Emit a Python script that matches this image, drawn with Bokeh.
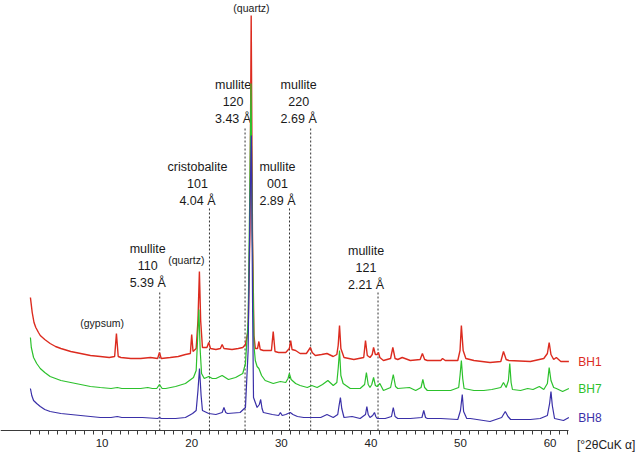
import math
from bokeh.plotting import figure
from bokeh.models import LinearAxis, FixedTicker, Range1d, ColumnDataSource
from bokeh.core.properties import value
from bokeh.embed import file_html
from bokeh.resources import INLINE

# ---------------- data ----------------
# intensity in arbitrary units (offset traces, as drawn)
bh1_x = [2.0, 2.2, 2.4, 2.6, 2.9, 3.1, 3.6, 4.2, 4.8, 5.4, 6.5, 7.6, 8.7, 9.8, 10.8, 11.4, 11.6, 11.8,
         12.1, 13.2, 14.3, 15.4, 16.2, 16.4, 16.6, 17.6, 18.5, 19.3, 19.85, 20.0, 20.15, 20.5, 20.7,
         20.86, 21.0, 21.2, 21.7, 21.9, 22.1, 22.7, 23.2, 23.4, 23.6, 24.5, 25.2, 25.7, 26.0, 26.3,
         26.5, 26.64, 26.78, 26.95, 27.1, 27.35, 27.5, 27.65, 28.0, 28.9, 29.1, 29.3, 29.7, 30.5,
         30.9, 31.05, 31.2, 31.6, 32.1, 32.8, 33.25, 33.45, 33.8, 34.5, 35.1, 35.8, 36.2, 36.35,
         36.5, 36.65, 37.0, 38.1, 39.2, 39.4, 39.6, 39.9, 40.15, 40.3, 40.5, 40.7, 40.85, 41.0, 41.4,
         42.2, 42.45, 42.7, 43.0, 43.5, 44.4, 45.5, 45.75, 46.0, 46.3, 47.0, 47.8, 48.0, 48.3, 49.7,
         49.95, 50.1, 50.3, 50.6, 51.5, 53.3, 54.5, 54.8, 55.1, 55.4, 57.8, 59.3, 59.7, 59.9, 60.1,
         60.4, 60.7, 61.2, 62.1]
bh1_y = [133, 118, 108, 103, 98, 95, 91, 87, 84, 82, 79, 77, 75, 74, 73, 74, 97, 74,
         73, 72, 72, 73, 72, 78, 72, 73, 74, 76, 77, 96, 79, 82, 110,
         159, 110, 83, 83, 88, 82, 81, 82, 86, 82, 81, 82, 83, 86, 100,
         200, 415, 200, 95, 82, 82, 89, 81, 80, 80, 99, 79, 78, 78,
         82, 90, 81, 80, 77, 77, 83, 78, 75, 76, 77, 74, 76, 85,
         105, 82, 73, 71, 73, 90, 75, 73, 76, 83, 76, 76, 78, 73, 70,
         72, 83, 72, 71, 73, 70, 71, 77, 71, 70, 70, 70, 72, 70, 70,
         80, 105, 80, 72, 70, 68, 69, 79, 71, 70, 69, 72, 77, 88, 76,
         71, 73, 69, 69]

bh7_x = [2.0, 2.1, 2.35, 2.7, 3.1, 3.6, 4.2, 4.8, 5.4, 6.5, 7.6, 8.7, 9.8, 11.0, 11.7, 12.2, 13.2,
         14.3, 15.1, 15.6, 16.1, 16.4, 16.7, 17.1, 18.2, 19.3, 20.2, 20.5, 20.65, 20.8, 20.95, 21.1,
         21.4, 21.9, 22.3, 22.7, 23.4, 24.1, 24.9, 25.7, 26.0, 26.3, 26.5, 26.62, 26.76, 26.95, 27.1,
         27.3, 27.5, 27.8, 28.2, 29.1, 29.9, 30.5, 30.75, 30.9, 31.1, 31.6, 32.1, 32.9, 33.4, 34.0,
         34.6, 35.2, 35.8, 36.2, 36.35, 36.5, 36.65, 36.9, 37.7, 38.8, 39.3, 39.5, 39.7, 39.9, 40.1,
         40.3, 40.5, 40.7, 41.0, 41.4, 42.2, 42.5, 42.75, 43.0, 44.3, 45.0, 45.6, 45.8, 46.0, 46.3,
         47.8, 48.9, 49.8, 49.95, 50.1, 50.25, 50.4, 51.5, 52.6, 53.5, 54.5, 54.8, 55.1, 55.35, 55.5,
         55.65, 55.8, 56.7, 57.5, 58.1, 58.8, 59.3, 59.7, 59.9, 60.1, 60.4, 60.7, 61.4, 62.1]
bh7_y = [93, 83, 73, 67, 62, 58, 54, 52, 50, 48, 46, 44, 43, 42, 43, 42, 42,
         42, 43, 42, 42, 46, 42, 42, 44, 47, 53, 60, 90, 121, 80, 57,
         52, 54, 52, 52, 55, 51, 53, 57, 67, 110, 250, 347, 200, 85, 70,
         64, 62, 55, 50, 47, 49, 48, 52, 57, 51, 47, 45, 43, 45, 43,
         46, 50, 45, 48, 62, 80, 55, 47, 42, 42, 46, 58, 46, 43, 46,
         53, 45, 44, 47, 40, 43, 56, 44, 42, 43, 40, 43, 51, 43, 40,
         40, 40, 43, 55, 70, 52, 42, 40, 40, 41, 43, 48, 43, 50, 67,
         48, 41, 40, 42, 41, 44, 41, 47, 63, 50, 43, 42, 39, 42]

bh8_x = [2.0, 2.15, 2.35, 2.7, 3.1, 3.6, 4.2, 4.8, 5.4, 6.5, 7.6, 8.7, 9.8, 11.0, 11.7, 12.2, 13.2,
         14.5, 16.2, 16.4, 16.6, 17.1, 18.2, 19.3, 20.1, 20.5, 20.7, 20.87, 21.05, 21.2, 21.9, 22.7,
         23.4, 23.6, 23.8, 24.0, 25.4, 26.0, 26.3, 26.5, 26.66, 26.8, 26.9, 27.1, 27.3, 27.55, 27.7,
         27.85, 28.0, 29.0, 29.7, 29.9, 30.1, 30.5, 31.0, 31.3, 31.8, 32.5, 33.3, 34.4, 35.1, 35.8,
         36.3, 36.45, 36.6, 36.75, 37.0, 37.9, 38.8, 39.4, 39.55, 39.7, 39.9, 40.2, 40.4, 40.55, 40.7,
         41.6, 42.3, 42.5, 42.7, 43.0, 44.4, 45.7, 45.9, 46.1, 46.3, 47.8, 49.7, 50.0, 50.2, 50.35,
         50.7, 51.1, 53.3, 54.6, 55.0, 55.3, 55.6, 57.8, 58.9, 59.7, 59.95, 60.1, 60.25, 60.5, 61.5,
         62.1]
bh8_y = [42, 35, 30, 27, 24, 21, 19, 18, 17, 16, 15, 14, 13, 13, 14, 13, 13,
         13, 12, 13, 12, 12, 12, 13, 17, 20, 40, 62, 35, 20, 17, 16,
         18, 23, 18, 17, 18, 23, 80, 220, 295, 120, 33, 28, 23, 26, 31,
         22, 18, 16, 15, 18, 15, 16, 18, 16, 14, 13, 13, 13, 16, 13,
         16, 25, 33, 22, 13, 14, 12, 16, 24, 16, 13, 15, 18, 14, 12,
         12, 14, 23, 14, 12, 12, 13, 20, 13, 12, 12, 11, 20, 36, 19,
         12, 12, 9, 13, 19, 14, 11, 11, 12, 15, 27, 39, 25, 12, 10,
         13]

series_names = ["BH1", "BH7", "BH8"]
series_colors = ["#dc2b1f", "#2cc12c", "#3a30a8"]

# reflection markers
mark_phase = ["mullite", "cristobalite", "mullite", "mullite", "mullite", "mullite"]
mark_hkl = ["110", "101", "120", "001", "220", "121"]
mark_d = [5.39, 4.04, 3.43, 2.89, 2.69, 2.21]          # d-spacing in Å
mark_top = [140, 222, 304, 222, 304, 138]              # height of the dotted marker
wavelength = 1.5406                                     # Cu K alpha, Å

# phase notes
note_text = ["(quartz)", "(quartz)", "(gypsum)"]
note_x = [26.67, 19.4, 10.0]
note_y = [423, 171, 108]

tick_major = [10, 20, 30, 40, 50, 60]
tick_minor = list(range(2, 63))
axis_unit = "[°2θCuK α]"

# ---------------- figure ----------------
X0, X1 = -1.34, 69.87
p = figure(width=638, height=454, output_backend="svg", toolbar_location=None,
           x_range=Range1d(X0, X1), y_range=Range1d(-24, 430),
           x_axis_type=None, y_axis_type=None,
           min_border_left=0, min_border_right=0, min_border_top=0, min_border_bottom=0)
p.outline_line_color = None
p.background_fill_color = "white"
p.border_fill_color = "white"

FONT = "Liberation Sans"

axis = LinearAxis(ticker=FixedTicker(ticks=tick_major, minor_ticks=tick_minor))
axis.fixed_location = 0
axis.bounds = (X0, 62.1)
axis.axis_line_color = "#3a3a3a"
axis.axis_line_width = 1
axis.major_tick_in = 0
axis.major_tick_out = 4
axis.minor_tick_in = 0
axis.minor_tick_out = 4
axis.major_tick_line_color = "#3a3a3a"
axis.minor_tick_line_color = "#3a3a3a"
axis.major_label_text_font = FONT
axis.major_label_text_font_size = "11.5px"
axis.major_label_text_color = "#222222"
axis.major_label_standoff = 4
p.add_layout(axis, "below")

# dotted reflection markers
mark_x = [2 * math.degrees(math.asin(wavelength / (2 * d))) for d in mark_d]
p.segment(x0=mark_x, y0=[0] * len(mark_x), x1=mark_x, y1=mark_top,
          line_color="#333333", line_width=1, line_dash="2 2")

lines_text, lines_x, lines_y, lines_off = [], [], [], []
for ph, hkl, d, x, top in zip(mark_phase, mark_hkl, mark_d, mark_x, mark_top):
    for k, t in enumerate([ph, hkl, "%.2f Å" % d]):
        lines_text.append(t)
        lines_x.append(x)
        lines_y.append(top)
        lines_off.append(-(8 + 17 * (2 - k)))
src = ColumnDataSource(dict(x=lines_x, y=lines_y, text=lines_text, yo=lines_off))
p.text(x="x", y="y", text="text", y_offset="yo", x_offset=-12, source=src,
       text_font=value(FONT), text_font_size="12.5px", text_color="#1a1a1a",
       text_align="center", text_baseline="middle")

# traces
xs = [bh1_x, bh7_x, bh8_x]
ys = [bh1_y, bh7_y, bh8_y]
widths = [1.4, 1.2, 1.2]
for x, y, c, w in zip(xs, ys, series_colors, widths):
    p.line(x, y, line_color=c, line_width=w)

# series labels at the right end of each trace
p.text(x=[x[-1] + 1.05 for x in xs], y=[y[-1] for y in ys], text=series_names,
       text_color=series_colors, text_font=value(FONT), text_font_size="12px",
       text_align="left", text_baseline="middle")

# phase notes
p.text(x=note_x, y=note_y, text=note_text, text_font=value(FONT), text_font_size="10.5px",
       text_color="#1a1a1a", text_align="center", text_baseline="middle")

# axis unit (placed at the right end of the axis, level with tick labels)
p.text(x=[63.0], y=[-14], text=[axis_unit], text_font=value(FONT), text_font_size="12px",
       text_color="#222222", text_align="left", text_baseline="middle")

open("out.html", "w").write(file_html(p, INLINE))
